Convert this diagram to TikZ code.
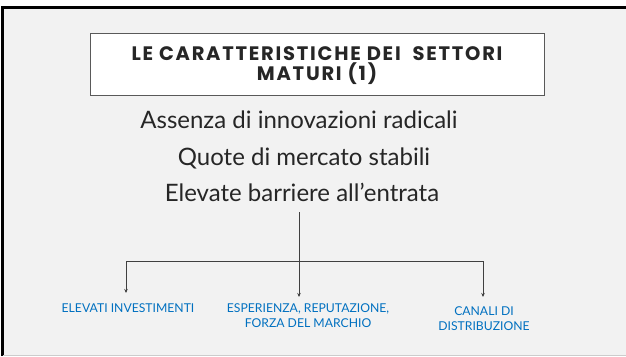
\documentclass[tikz,border=0pt]{standalone}
\usepackage{fontspec}
\setmainfont{Lato}
\newfontfamily\titlefont[LetterSpace=9]{Poppins}
\usetikzlibrary{arrows.meta}
\definecolor{slidebg}{HTML}{F2F2F2}
\definecolor{boxline}{HTML}{595959}
\definecolor{txt}{HTML}{262626}
\definecolor{conn}{HTML}{404040}
\definecolor{labblue}{HTML}{0070C0}
\tikzset{
  titlebox/.style={draw=boxline, line width=1.2pt, fill=white},
  titletext/.style={text=txt, font=\titlefont\bfseries\fontsize{19.5}{24}\selectfont, anchor=base, inner sep=0pt},
  bodytext/.style={text=txt, font=\fontsize{24}{28}\selectfont, anchor=base, inner sep=0pt},
  labtext/.style={text=labblue, font=\fontsize{12.2}{15}\selectfont, align=center, anchor=north, inner sep=0pt},
  connector/.style={draw=conn, line width=1pt},
  arrowconn/.style={connector, -{Stealth[length=4pt,width=3.5pt]}}
}
\begin{document}
\begin{tikzpicture}[x=1pt,y=-1pt]
\useasboundingbox (0,0) rectangle (626,356);
\fill[white] (0,0) rectangle (626,356);
\fill[slidebg] (3,7) rectangle (626,355);
\draw[black, line width=2.5pt] (2.5,356) -- (2.5,7.5) -- (626,7.5);
\draw[gray!40, line width=1pt] (3,355) -- (626,355);
% title
\node[titlebox, minimum width=454, minimum height=62, anchor=north west, inner sep=0pt] (title) at (90,33) {};
\node[titletext] (t1) at (317,60.5) {LE CARATTERISTICHE DEI\ \ SETTORI};
\node[titletext] (t2) at (317,80.5) {MATURI (1)};
% body
\node[bodytext] (b1) at (299,128) {Assenza di innovazioni radicali};
\node[bodytext] (b2) at (304,165) {Quote di mercato stabili};
\node[bodytext] (b3) at (302,201) {Elevate barriere all’entrata};
% labels
\node[labtext] (lab1) at (128,303) {ELEVATI INVESTIMENTI};
\node[labtext] (lab2) at (308,303) {ESPERIENZA, REPUTAZIONE,\\FORZA DEL MARCHIO};
\node[labtext] (lab3) at (484,306) {CANALI DI\\DISTRIBUZIONE};
% connectors
\coordinate (src) at (299,212);
\coordinate (jl) at (126,261);
\coordinate (jr) at (483,261);
\coordinate (e1) at (126,293);
\coordinate (e2) at (299,297);
\coordinate (e3) at (483,297);
\draw[connector] (jl) -- (jr);
\draw[arrowconn] (src) -- (e2);
\draw[arrowconn] (jl) -- (e1);
\draw[arrowconn] (jr) -- (e3);
\end{tikzpicture}
\end{document}
